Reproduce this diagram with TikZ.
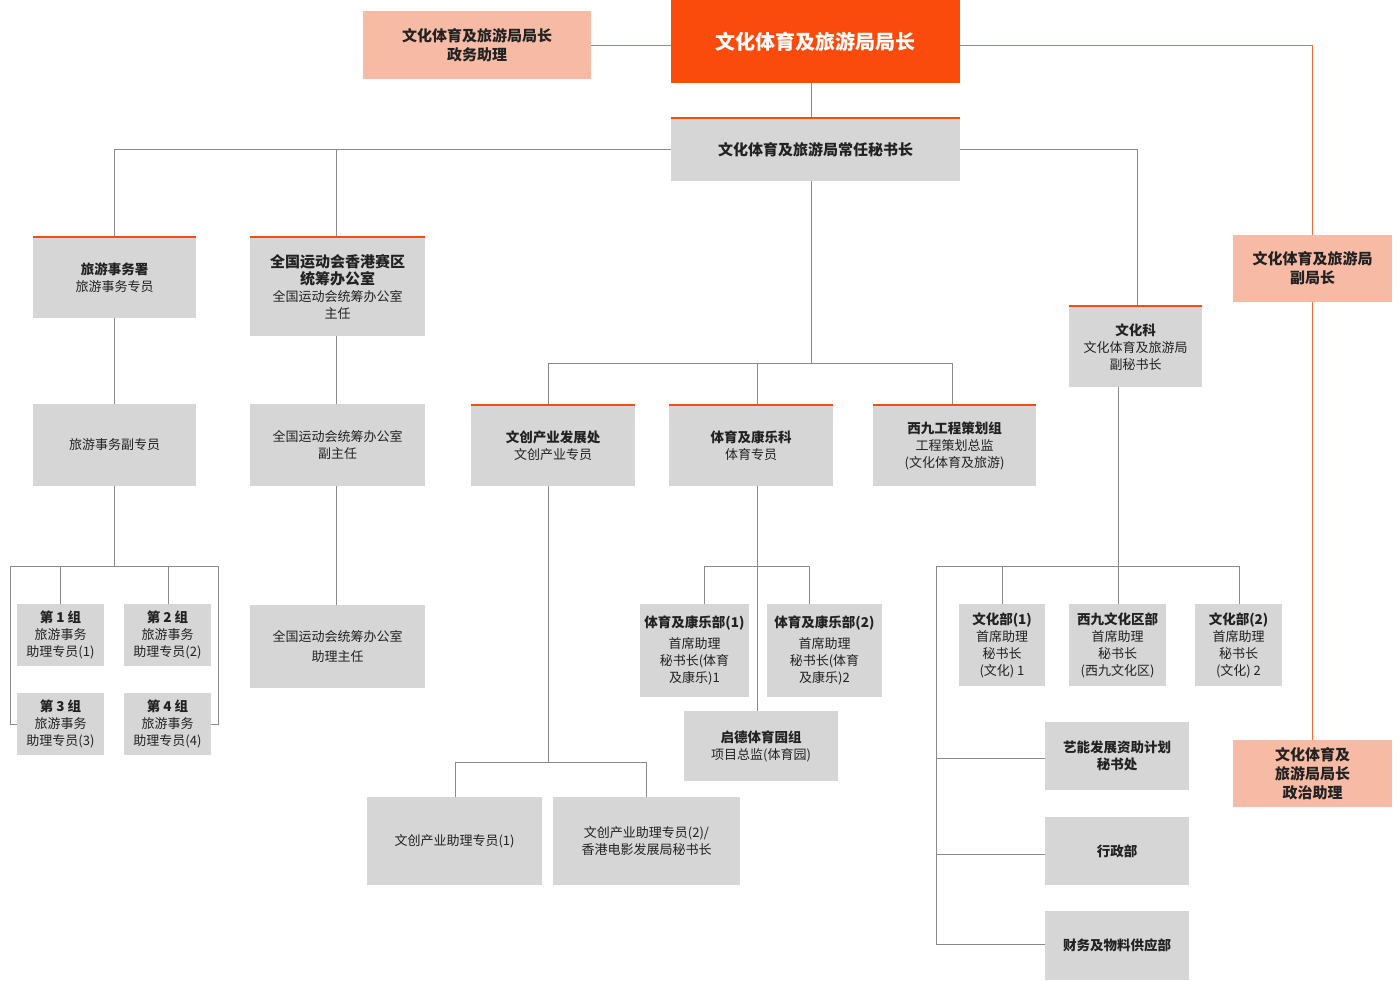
\documentclass[tikz,border=0pt]{standalone}
\usepackage{fontspec}
\setmainfont{Noto Sans CJK SC}
\definecolor{org}{HTML}{FA4A0C}
\definecolor{salm}{HTML}{F7BBA5}
\definecolor{gry}{HTML}{D6D6D6}
\definecolor{ln}{HTML}{8A8A8A}
\definecolor{oln}{HTML}{F26A3A}
\definecolor{tx}{HTML}{222222}
\newcommand\mkbox[7]{\node[#6, minimum width={(#4-#2)*1pt}, minimum height={(#5-#3)*1pt}] (#1) at ({(#2+#4)/2},{(#3+#5)/2}) {#7};}
\tikzset{
 box/.style={fill=gry, inner sep=1pt, align=center, text=tx, font=\fontsize{13}{17}\selectfont},
 sbox/.style={fill=salm, inner sep=1pt, align=center, text=tx, font=\bfseries\fontsize{15}{19}\selectfont},
 bar/.style={append after command={\pgfextra{\draw[org, line width=4pt] (\tikzlastnode.north west) -- (\tikzlastnode.north east);}}},
 conn/.style={draw=ln, line width=0.9pt},
 oconn/.style={draw=oln, line width=0.9pt},
}
\newcommand\bt[1]{{\bfseries\fontsize{13.5}{17.5}\selectfont #1}}
\newcommand\btl[1]{{\bfseries\fontsize{15}{19}\selectfont #1}}
\begin{document}
\begin{tikzpicture}[x=1pt,y=-1pt]
\useasboundingbox (0,0) rectangle (1400,980);
% connectors
\draw[oconn] (591,45) -- (671,45);
\draw[oconn] (960,45) -- (1312,45) -- (1312,235);
\draw[oconn] (1312,302) -- (1312,740);
\draw[conn] (811,83) -- (811,117);
\draw[conn] (671,149) -- (114,149) -- (114,236);
\draw[conn] (336,149) -- (336,236);
\draw[conn] (960,149) -- (1137,149) -- (1137,305);
\draw[conn] (811,181) -- (811,363);
\draw[conn] (548,404) -- (548,363) -- (952,363) -- (952,404);
\draw[conn] (757,363) -- (757,404);
\draw[conn] (114,318) -- (114,404);
\draw[conn] (114,486) -- (114,566);
\draw[conn] (17,724) -- (10,724) -- (10,566) -- (218,566) -- (218,724) -- (211,724);
\draw[conn] (60,566) -- (60,604);
\draw[conn] (168,566) -- (168,604);
\draw[conn] (336,336) -- (336,404);
\draw[conn] (336,486) -- (336,605);
\draw[conn] (548,486) -- (548,762);
\draw[conn] (455,797) -- (455,762) -- (646,762) -- (646,797);
\draw[conn] (757,486) -- (757,711);
\draw[conn] (704,604) -- (704,566) -- (809,566) -- (809,604);
\draw[conn] (1118,387) -- (1118,604);
\draw[conn] (1002,604) -- (1002,566) -- (1239,566) -- (1239,604);
\draw[conn] (1002,566) -- (936,566) -- (936,944) -- (1045,944);
\draw[conn] (936,758) -- (1045,758);
\draw[conn] (936,854) -- (1045,854);
% boxes
\mkbox{top}{671}{0}{960}{83}{box, fill=org, text=white, font=\bfseries\fontsize{20}{24}\selectfont}{文化体育及旅游局局长}
\mkbox{pa}{363}{11}{591}{79}{sbox}{文化体育及旅游局局长\\政务助理}
\mkbox{vice}{1233}{235}{1392}{302}{sbox}{文化体育及旅游局\\副局长}
\mkbox{pol}{1233}{740}{1392}{807}{sbox}{文化体育及\\旅游局局长\\政治助理}
\mkbox{sec}{671}{119}{960}{181}{box,bar}{\btl{文化体育及旅游局常任秘书长}}
\mkbox{tour}{33}{238}{196}{318}{box,bar}{\bt{旅游事务署}\\旅游事务专员}
\mkbox{games}{250}{238}{425}{336}{box,bar}{\btl{全国运动会香港赛区}\\\btl{统筹办公室}\\全国运动会统筹办公室\\主任}
\mkbox{cult}{1069}{307}{1202}{387}{box,bar}{\bt{文化科}\\文化体育及旅游局\\副秘书长}
\mkbox{wc}{471}{406}{635}{486}{box,bar}{\bt{文创产业发展处}\\文创产业专员}
\mkbox{sport}{669}{406}{833}{486}{box,bar}{\bt{体育及康乐科}\\体育专员}
\mkbox{wk}{873}{406}{1036}{486}{box,bar}{\bt{西九工程策划组}\\工程策划总监\\(文化体育及旅游)}
\mkbox{tour2}{33}{404}{196}{486}{box}{旅游事务副专员}
\mkbox{g1}{17}{604}{104}{666}{box}{\bt{第 1 组}\\旅游事务\\助理专员(1)}
\mkbox{g2}{124}{604}{211}{666}{box}{\bt{第 2 组}\\旅游事务\\助理专员(2)}
\mkbox{g3}{17}{693}{104}{755}{box}{\bt{第 3 组}\\旅游事务\\助理专员(3)}
\mkbox{g4}{124}{693}{211}{755}{box}{\bt{第 4 组}\\旅游事务\\助理专员(4)}
\mkbox{games2}{250}{404}{425}{486}{box}{全国运动会统筹办公室\\副主任}
\mkbox{games3}{250}{605}{425}{688}{box}{全国运动会统筹办公室\\[3pt]助理主任}
\mkbox{wc1}{367}{797}{542}{885}{box}{文创产业助理专员(1)}
\mkbox{wc2}{553}{797}{740}{885}{box}{文创产业助理专员(2)/\\香港电影发展局秘书长}
\mkbox{sp1}{640}{604}{749}{697}{box}{\bt{体育及康乐部(1)}\\[4pt]首席助理\\秘书长(体育\\及康乐)1}
\mkbox{sp2}{767}{604}{882}{697}{box}{\bt{体育及康乐部(2)}\\[4pt]首席助理\\秘书长(体育\\及康乐)2}
\mkbox{kt}{684}{711}{838}{781}{box}{\bt{启德体育园组}\\项目总监(体育园)}
\mkbox{c1}{959}{604}{1045}{686}{box}{\bt{文化部(1)}\\首席助理\\秘书长\\(文化) 1}
\mkbox{c2}{1069}{604}{1166}{686}{box}{\bt{西九文化区部}\\首席助理\\秘书长\\(西九文化区)}
\mkbox{c3}{1195}{604}{1282}{686}{box}{\bt{文化部(2)}\\首席助理\\秘书长\\(文化) 2}
\mkbox{art}{1045}{722}{1189}{790}{box}{\bt{艺能发展资助计划}\\\bt{秘书处}}
\mkbox{adm}{1045}{817}{1189}{885}{box}{\bt{行政部}}
\mkbox{fin}{1045}{911}{1189}{980}{box}{\bt{财务及物料供应部}}
\end{tikzpicture}
\end{document}
